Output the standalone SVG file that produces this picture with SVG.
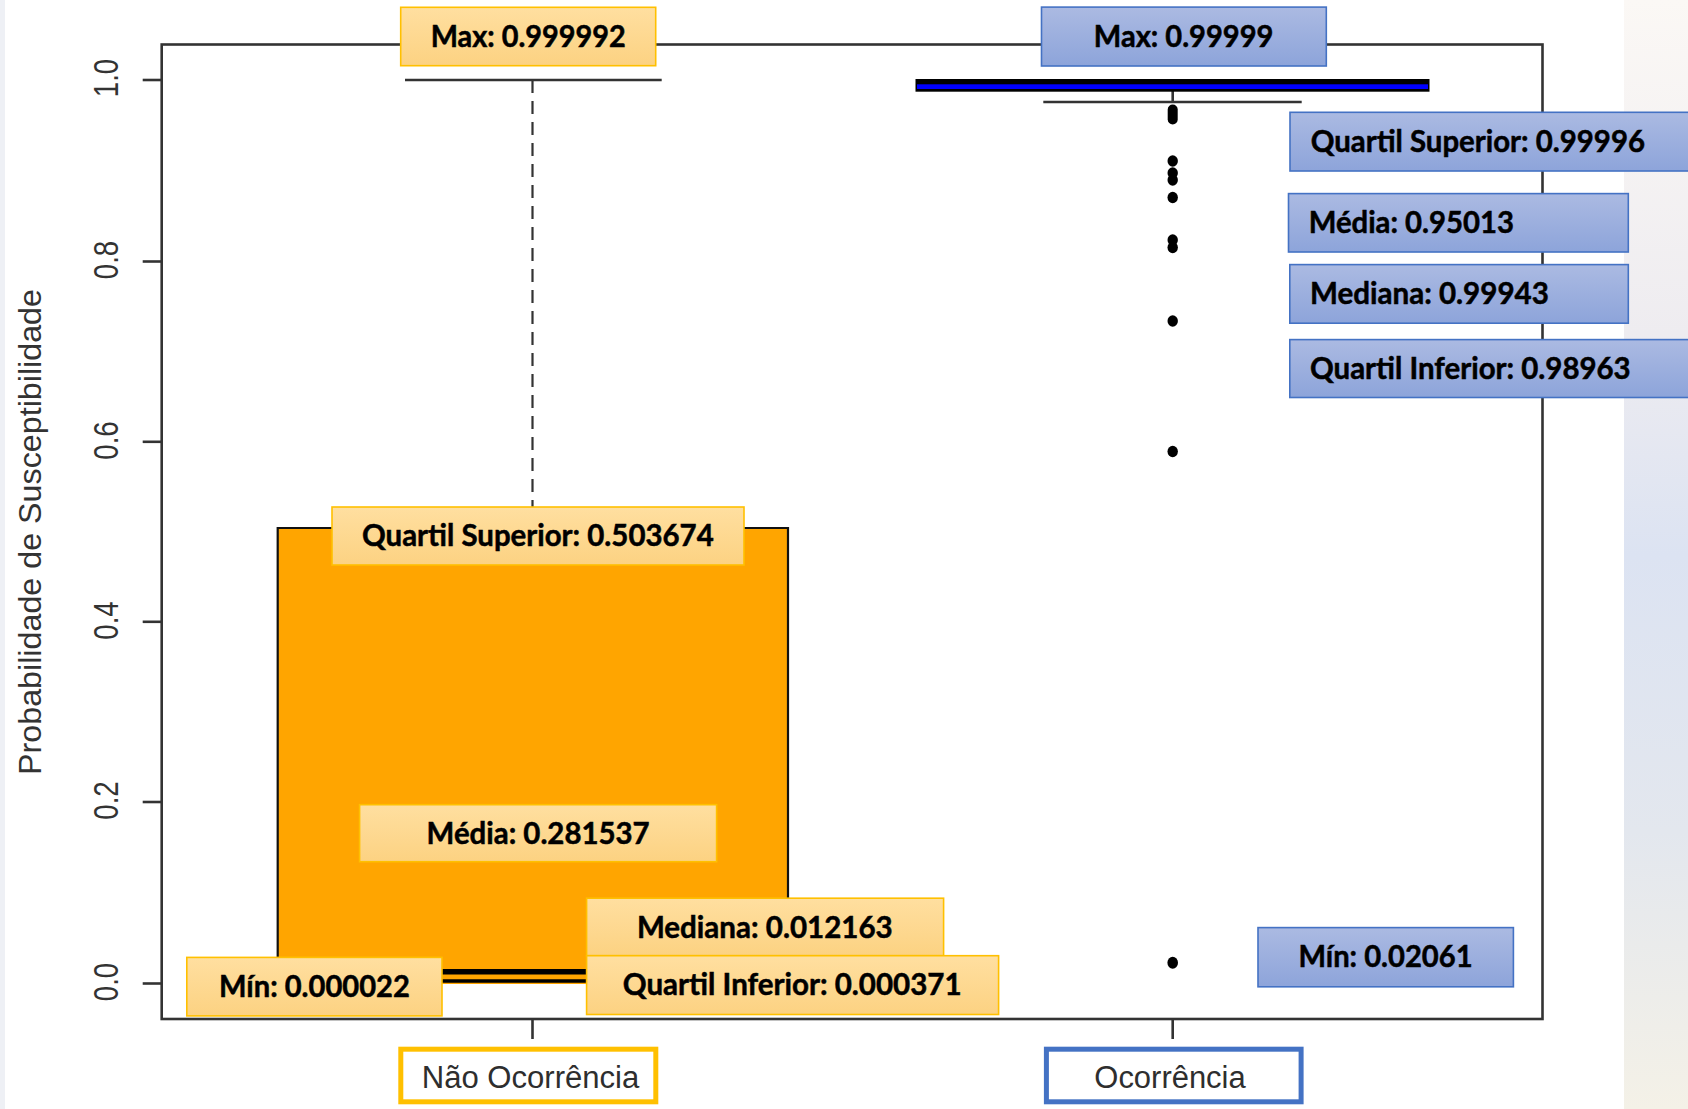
<svg xmlns="http://www.w3.org/2000/svg" width="1688" height="1109" viewBox="0 0 1688 1109">
  <defs>
    <linearGradient id="gOrange" x1="0" y1="0" x2="0" y2="1">
      <stop offset="0" stop-color="#FFDFA0"/>
      <stop offset="1" stop-color="#FCD282"/>
    </linearGradient>
    <linearGradient id="gBlue" x1="0" y1="0" x2="0" y2="1">
      <stop offset="0" stop-color="#ABBAE2"/>
      <stop offset="1" stop-color="#8DA4DA"/>
    </linearGradient>
    <linearGradient id="gBand" x1="0" y1="0" x2="0" y2="1">
      <stop offset="0" stop-color="#FBF8F5"/>
      <stop offset="0.3" stop-color="#EEECF0"/>
      <stop offset="0.5" stop-color="#DCE3F2"/>
      <stop offset="0.75" stop-color="#E3E7EE"/>
      <stop offset="1" stop-color="#F4F1E7"/>
    </linearGradient>
    <style>
      .frame { fill: none; stroke: #333; stroke-width: 2.6; }
      .tick { stroke: #333; stroke-width: 2.6; }
      .ticklbl { font-family: "Liberation Sans", Arial, sans-serif; font-size: 27.6px; fill: #333; text-anchor: middle; }
      .ytitle { font-family: "Liberation Sans", Arial, sans-serif; font-size: 32px; fill: #333; text-anchor: middle; }
      .cat { font-family: "Liberation Sans", Arial, sans-serif; font-size: 31px; fill: #2e2e2e; }
      .lblO { fill: url(#gOrange); stroke: #FFC000; stroke-width: 1.6; }
      .lblB { fill: url(#gBlue); stroke: #4472C4; stroke-width: 1.6; }
      .lt { font-family: Lato, "Liberation Sans", Arial, sans-serif; font-weight: 700; font-size: 29.5px; fill: #000; stroke: #000; stroke-width: 0.5; }
      .whisk { stroke: #333; stroke-width: 2.6; fill: none; }
      .dot { fill: #000; }
    </style>
  </defs>

  <rect x="0" y="0" width="1688" height="1109" fill="#FFFFFF"/>
  <rect x="1624" y="0" width="64" height="1109" fill="url(#gBand)"/>
  <rect x="0" y="0" width="5" height="1109" fill="#EEF0F5"/>

  <!-- axes -->
  <g id="axes">
    <rect class="frame" x="161.7" y="44.5" width="1380.8" height="974.5"/>
    <line class="tick" x1="142.7" y1="80" x2="161.7" y2="80"/>
    <line class="tick" x1="142.7" y1="261.5" x2="161.7" y2="261.5"/>
    <line class="tick" x1="142.7" y1="441.8" x2="161.7" y2="441.8"/>
    <line class="tick" x1="142.7" y1="621.8" x2="161.7" y2="621.8"/>
    <line class="tick" x1="142.7" y1="802" x2="161.7" y2="802"/>
    <line class="tick" x1="142.7" y1="983.5" x2="161.7" y2="983.5"/>
    <line class="tick" x1="532.5" y1="1019" x2="532.5" y2="1039"/>
    <line class="tick" x1="1172.7" y1="1019" x2="1172.7" y2="1039"/>
    <text class="ticklbl" transform="translate(117.7,78) rotate(-90) scale(1,1.29)">1.0</text>
    <text class="ticklbl" transform="translate(117.7,260) rotate(-90) scale(1,1.29)">0.8</text>
    <text class="ticklbl" transform="translate(117.7,440.5) rotate(-90) scale(1,1.29)">0.6</text>
    <text class="ticklbl" transform="translate(117.7,620.5) rotate(-90) scale(1,1.29)">0.4</text>
    <text class="ticklbl" transform="translate(117.7,800.5) rotate(-90) scale(1,1.29)">0.2</text>
    <text class="ticklbl" transform="translate(117.7,982) rotate(-90) scale(1,1.29)">0.0</text>
    <text class="ytitle" transform="translate(41,532) rotate(-90)" textLength="486" lengthAdjust="spacingAndGlyphs">Probabilidade de Susceptibilidade</text>
  </g>

  <!-- box Não Ocorrência -->
  <g id="box-nao-ocorrencia">
    <line x1="532.5" y1="80" x2="532.5" y2="528" stroke="#333" stroke-width="2.2" stroke-dasharray="13 8"/>
    <line class="whisk" x1="405" y1="80" x2="661.7" y2="80"/>
    <rect x="277.7" y="528" width="510.3" height="456" fill="#FFA500"/>
    <polyline points="277.7,984 277.7,528 788,528 788,984" fill="none" stroke="#111" stroke-width="2.2"/>
    <line x1="277.7" y1="971.7" x2="788" y2="971.7" stroke="#000" stroke-width="5.5"/>
    <line x1="277.7" y1="981" x2="788" y2="981" stroke="#000" stroke-width="3.4"/>
  </g>

  <!-- box Ocorrência -->
  <g id="box-ocorrencia">
    <line class="whisk" x1="1172.7" y1="91" x2="1172.7" y2="102"/>
    <line class="whisk" x1="1043.3" y1="102" x2="1301.7" y2="102"/>
    <rect x="915.5" y="79" width="514" height="12.7" fill="#000"/>
    <rect x="917" y="84.3" width="511" height="4.7" fill="#0000FF"/>
    <g class="dot">
      <rect x="1167.7" y="104.5" width="10" height="20" rx="5"/>
      <ellipse cx="1172.7" cy="161" rx="5.2" ry="5.8"/>
      <ellipse cx="1172.7" cy="173" rx="5.2" ry="5.8"/>
      <ellipse cx="1172.7" cy="180" rx="5.2" ry="5.8"/>
      <ellipse cx="1172.7" cy="197.5" rx="5.2" ry="5.8"/>
      <ellipse cx="1172.7" cy="240" rx="5.2" ry="5.8"/>
      <ellipse cx="1172.7" cy="247.5" rx="5.2" ry="5.8"/>
      <ellipse cx="1172.7" cy="321" rx="5.2" ry="5.8"/>
      <ellipse cx="1172.7" cy="451.5" rx="5.2" ry="5.8"/>
      <ellipse cx="1172.7" cy="962.7" rx="5.3" ry="6"/>
    </g>
  </g>

  <!-- orange labels -->
  <g id="lbl-max-nao">
    <rect class="lblO" x="400.7" y="7.3" width="255" height="58.4"/>
    <text class="lt" x="430.7" y="46.7" textLength="195" lengthAdjust="spacingAndGlyphs">Max: 0.999992</text>
  </g>
  <g id="lbl-q3-nao">
    <rect class="lblO" x="332" y="507" width="412" height="58"/>
    <text class="lt" x="362" y="546.4" textLength="351.7" lengthAdjust="spacingAndGlyphs">Quartil Superior: 0.503674</text>
  </g>
  <g id="lbl-media-nao">
    <rect class="lblO" x="359.6" y="804.7" width="357" height="57"/>
    <text class="lt" x="426.6" y="844" textLength="223" lengthAdjust="spacingAndGlyphs">Média: 0.281537</text>
  </g>
  <g id="lbl-mediana-nao">
    <rect class="lblO" x="586.6" y="898.2" width="357" height="57.5"/>
    <text class="lt" x="636.9" y="937.6" textLength="255.8" lengthAdjust="spacingAndGlyphs">Mediana: 0.012163</text>
  </g>
  <g id="lbl-q1-nao">
    <rect class="lblO" x="586.6" y="955.7" width="412" height="58.8"/>
    <text class="lt" x="622.8" y="995" textLength="338.8" lengthAdjust="spacingAndGlyphs">Quartil Inferior: 0.000371</text>
  </g>
  <g id="lbl-min-nao">
    <rect class="lblO" x="186.8" y="957.4" width="255.2" height="58.5"/>
    <text class="lt" x="219" y="996.8" textLength="190.8" lengthAdjust="spacingAndGlyphs">Mín: 0.000022</text>
  </g>

  <!-- blue labels -->
  <g id="lbl-max-oc">
    <rect class="lblB" x="1041.5" y="7.1" width="284.8" height="58.9"/>
    <text class="lt" x="1093.8" y="46.7" textLength="179.6" lengthAdjust="spacingAndGlyphs">Max: 0.99999</text>
  </g>
  <g id="lbl-q3-oc">
    <rect class="lblB" x="1290" y="112.3" width="410" height="58.7"/>
    <text class="lt" x="1310.7" y="151.7" textLength="334.3" lengthAdjust="spacingAndGlyphs">Quartil Superior: 0.99996</text>
  </g>
  <g id="lbl-media-oc">
    <rect class="lblB" x="1288.5" y="193.6" width="339.8" height="58.4"/>
    <text class="lt" x="1308.7" y="233" textLength="205.3" lengthAdjust="spacingAndGlyphs">Média: 0.95013</text>
  </g>
  <g id="lbl-mediana-oc">
    <rect class="lblB" x="1289.8" y="264.6" width="338.5" height="58.6"/>
    <text class="lt" x="1310" y="304" textLength="238.8" lengthAdjust="spacingAndGlyphs">Mediana: 0.99943</text>
  </g>
  <g id="lbl-q1-oc">
    <rect class="lblB" x="1289.8" y="339.6" width="410" height="57.9"/>
    <text class="lt" x="1310" y="379" textLength="320.7" lengthAdjust="spacingAndGlyphs">Quartil Inferior: 0.98963</text>
  </g>
  <g id="lbl-min-oc">
    <rect class="lblB" x="1258" y="927.6" width="255.4" height="59.2"/>
    <text class="lt" x="1298.4" y="967" textLength="174.2" lengthAdjust="spacingAndGlyphs">Mín: 0.02061</text>
  </g>

  <!-- category labels -->
  <g id="cat-nao-ocorrencia">
    <rect x="400.8" y="1049.2" width="255" height="52.6" fill="#FFFFFF" stroke="#FFC000" stroke-width="5"/>
    <text class="cat" x="421.7" y="1088.3" textLength="217.6" lengthAdjust="spacingAndGlyphs">Não Ocorrência</text>
  </g>
  <g id="cat-ocorrencia">
    <rect x="1046.4" y="1049.2" width="254.7" height="52.6" fill="#FFFFFF" stroke="#4472C4" stroke-width="5"/>
    <text class="cat" x="1094.3" y="1088.3" textLength="151.4" lengthAdjust="spacingAndGlyphs">Ocorrência</text>
  </g>
</svg>
